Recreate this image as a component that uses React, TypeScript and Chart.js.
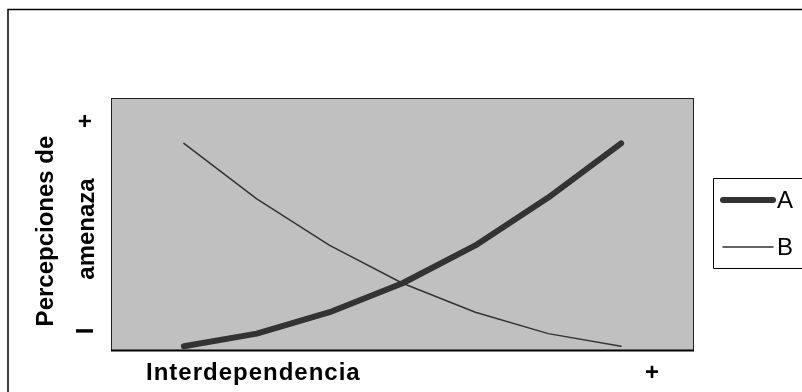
import { useEffect, useRef } from 'react';
import { Chart, registerables } from 'chart.js';

Chart.register(...registerables);

// ---- data ----
const categories = [1, 2, 3, 4, 5, 6, 7];
const seriesLabels = ['A', 'B'];
const seriesA = [1.5, 6.5, 15, 26.5, 41.5, 60.5, 82];
const seriesB = [82, 60, 41.5, 26.5, 15, 6.5, 1.5];
const yTitleLines = ['Percepciones de', 'amenaza'];
const xTitle = 'Interdependencia';
const highMark = '+';
const lowMark = 'I';

const FONT = '"Liberation Sans", Arial, sans-serif';

const decorPlugin = {
  id: 'decor',
  beforeDatasetsDraw(chart: any) {
    const { ctx, chartArea: a } = chart;
    ctx.save();
    ctx.fillStyle = '#c0c0c0';
    ctx.fillRect(a.left, a.top, a.right - a.left, a.bottom - a.top);
    ctx.restore();
  },
  afterDraw(chart: any) {
    const { ctx, chartArea: a } = chart;
    ctx.save();
    // outer frame
    ctx.strokeStyle = '#000';
    ctx.lineWidth = 1.5;
    ctx.beginPath();
    ctx.moveTo(8, 400);
    ctx.lineTo(8, 9.5);
    ctx.lineTo(810, 9.5);
    ctx.stroke();

    // plot frame
    ctx.strokeStyle = '#222';
    ctx.lineWidth = 1;
    ctx.strokeRect(a.left + 0.5, a.top + 0.5, a.right - a.left - 1, a.bottom - a.top);
    ctx.strokeStyle = '#000';
    ctx.lineWidth = 2;
    ctx.beginPath();
    ctx.moveTo(a.left, a.bottom + 0.5);
    ctx.lineTo(a.right, a.bottom + 0.5);
    ctx.stroke();

    ctx.fillStyle = '#000';
    // y title (rotated)
    const rot = (text: string, cx: number, cy: number) => {
      ctx.save();
      ctx.translate(cx, cy);
      ctx.rotate(-Math.PI / 2);
      ctx.textAlign = 'center';
      ctx.textBaseline = 'middle';
      ctx.fillText(text, 0, 0);
      ctx.restore();
    };
    ctx.font = `bold 24px ${FONT}`;
    rot(yTitleLines[0], a.left - 65, a.top + 133);
    rot(yTitleLines[1], a.left - 24, a.top + 131);
    rot(highMark, a.left - 25, a.top + 23);
    rot(lowMark, a.left - 25, a.bottom - 19);

    // x title
    ctx.textBaseline = 'alphabetic';
    ctx.textAlign = 'left';
    (ctx as any).letterSpacing = '1px';
    ctx.fillText(xTitle, a.left + 35, a.bottom + 30);
    (ctx as any).letterSpacing = '0px';
    ctx.textAlign = 'center';
    ctx.fillText(highMark, a.right - 42, a.bottom + 30);

    // legend
    const lx = a.right + 19;
    const ly = 178;
    ctx.strokeStyle = '#000';
    ctx.lineWidth = 1;
    ctx.beginPath();
    ctx.moveTo(820, ly + 0.5);
    ctx.lineTo(lx + 0.5, ly + 0.5);
    ctx.lineTo(lx + 0.5, ly + 90.5);
    ctx.lineTo(820, ly + 90.5);
    ctx.stroke();
    chart.data.datasets.forEach((ds: any, i: number) => {
      const y = ly + 22 + i * 47;
      ctx.strokeStyle = ds.borderColor;
      ctx.lineWidth = ds.borderWidth;
      ctx.lineCap = 'round';
      ctx.beginPath();
      ctx.moveTo(lx + 10, y);
      ctx.lineTo(lx + 60, y);
      ctx.stroke();
      ctx.fillStyle = '#000';
      ctx.font = `24px ${FONT}`;
      ctx.textAlign = 'left';
      ctx.textBaseline = 'middle';
      ctx.fillText(ds.label, lx + 64, y + 1);
    });
    ctx.restore();
  },
};

export default function App() {
  const ref = useRef<HTMLCanvasElement>(null);
  useEffect(() => {
    document.body.style.margin = '0';
    const chart = new Chart(ref.current as HTMLCanvasElement, {
      type: 'line',
      data: {
        datasets: [
          {
            label: seriesLabels[0],
            data: categories.map((c, i) => ({ x: c, y: seriesA[i] })),
            borderColor: '#333333',
            borderWidth: 6,
            borderCapStyle: 'round',
            borderJoinStyle: 'round',
            pointRadius: 0,
            tension: 0,
          },
          {
            label: seriesLabels[1],
            data: categories.map((c, i) => ({ x: c, y: seriesB[i] })),
            borderColor: '#333333',
            borderWidth: 1.5,
            borderCapStyle: 'round',
            borderJoinStyle: 'round',
            pointRadius: 0,
            tension: 0,
          },
        ],
      },
      options: {
        responsive: false,
        animation: false,
        layout: { padding: { left: 111, top: 98, right: 108, bottom: 42 } },
        scales: {
          x: { type: 'linear', min: 0, max: 8, display: false },
          y: { min: 0, max: 100, display: false },
        },
        plugins: { legend: { display: false }, tooltip: { enabled: false } },
      },
      plugins: [decorPlugin],
    } as any);
    return () => chart.destroy();
  }, []);
  return (
    <div style={{ position: 'absolute', left: 0, top: 0, width: 802, height: 392, background: '#fff' }}>
      <canvas ref={ref} width={802} height={392} />
    </div>
  );
}
